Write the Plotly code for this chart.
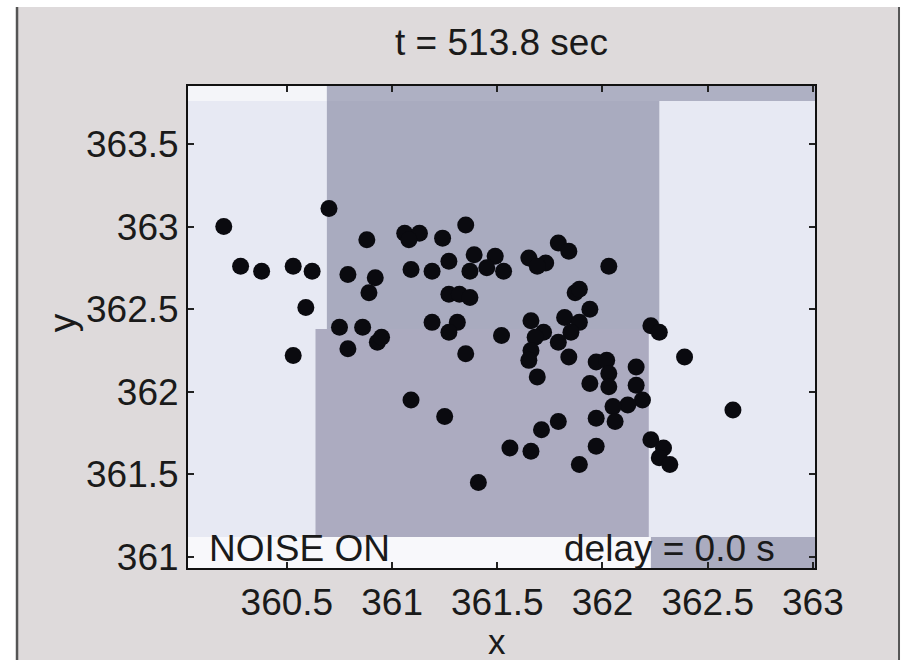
import plotly.graph_objects as go

# ---- data ----
x_vals = [360.20, 360.28, 360.38, 360.53, 360.62, 360.59, 360.53, 360.70, 360.79, 360.88,
          360.92, 360.89, 360.75, 360.79, 360.93, 360.95, 360.86, 361.06, 361.13, 361.08,
          361.35, 361.24, 361.09, 361.19, 361.27, 361.39, 361.49, 361.53, 361.37, 361.45,
          361.27, 361.32, 361.37, 361.65, 361.73, 361.69, 361.79, 361.84, 361.19, 361.31,
          361.27, 361.52, 361.66, 361.82, 361.89, 361.85, 361.79, 361.72, 361.68, 361.87,
          362.03, 361.89, 361.94, 362.23, 362.27, 361.35, 361.09, 361.25, 361.66, 361.65,
          361.69, 361.84, 361.97, 362.02, 362.03, 361.94, 362.03, 362.16, 362.16, 362.19,
          362.12, 362.05, 362.06, 361.97, 361.97, 361.89, 361.79, 361.71, 361.66, 361.56,
          361.41, 362.39, 362.62, 362.23, 362.29, 362.27, 362.32]
y_vals = [363.00, 362.76, 362.73, 362.76, 362.73, 362.51, 362.22, 363.11, 362.71, 362.92,
          362.69, 362.60, 362.39, 362.26, 362.30, 362.33, 362.39, 362.96, 362.96, 362.92,
          363.01, 362.93, 362.74, 362.73, 362.79, 362.83, 362.82, 362.73, 362.73, 362.75,
          362.59, 362.59, 362.57, 362.81, 362.78, 362.76, 362.90, 362.85, 362.42, 362.42,
          362.36, 362.34, 362.43, 362.45, 362.42, 362.36, 362.30, 362.36, 362.33, 362.60,
          362.76, 362.62, 362.50, 362.40, 362.36, 362.23, 361.95, 361.85, 362.25, 362.19,
          362.09, 362.21, 362.18, 362.19, 362.11, 362.05, 362.03, 362.15, 362.04, 361.95,
          361.92, 361.91, 361.82, 361.84, 361.67, 361.56, 361.82, 361.77, 361.64, 361.66,
          361.45, 362.21, 361.89, 361.71, 361.66, 361.60, 361.56]

x_ticks = [360.5, 361, 361.5, 362, 362.5, 363]
x_tick_labels = ["360.5", "361", "361.5", "362", "362.5", "363"]
y_ticks = [361, 361.5, 362, 362.5, 363, 363.5]
y_tick_labels = ["361", "361.5", "362", "362.5", "363", "363.5"]

title_text = "t = 513.8 sec"
x_title = "x"
y_title = "y"
noise_text = "NOISE ON"
delay_text = "delay = 0.0 s"

# background map cells (x0, x1, y0, y1, colour)
X0, X1 = 360.03, 363.01
Y0, Y1 = 360.933, 363.851
cells = [
    (X0, X1, Y0, Y1, "#e7e9f3"),
    (X0, 360.69, 363.76, Y1, "#f4f5f9"),
    (360.69, X1, 363.76, Y1, "#aeb0c3"),
    (360.69, 362.27, 362.38, 363.76, "#a9abbf"),
    (360.636, 362.22, 361.12, 362.38, "#acabc0"),
    (X0, 362.23, Y0, 361.12, "#f8f8fb"),
    (362.23, X1, Y0, 361.12, "#abacc0"),
]

FONT = "Liberation Sans, Arial, Helvetica, sans-serif"
FS = 37
TXT = "#1a1a1a"

fig = go.Figure()

fig.add_trace(go.Scatter(
    x=x_vals, y=y_vals, mode="markers",
    marker=dict(color="#0a0a0f", size=17, line=dict(width=0)),
    hoverinfo="skip", showlegend=False,
))

shapes = []
# figure frame (grey panel)
shapes.append(dict(type="rect", xref="paper", yref="paper",
                   x0=-0.2727, x1=1.134, y0=-0.25, y1=1.1639,
                   fillcolor="#dedadb", line=dict(width=0), layer="below"))
shapes.append(dict(type="line", xref="paper", yref="paper",
                   x0=-0.2727, x1=-0.2727, y0=-0.25, y1=1.1639,
                   line=dict(color="#555555", width=2.5), layer="below"))
shapes.append(dict(type="line", xref="paper", yref="paper",
                   x0=1.134, x1=1.134, y0=-0.25, y1=1.1639,
                   line=dict(color="#555555", width=2), layer="below"))
for (a, b, c, d, col) in cells:
    shapes.append(dict(type="rect", xref="x", yref="y", x0=a, x1=b, y0=c, y1=d,
                       fillcolor=col, line=dict(width=0), layer="below"))

annotations = [
    dict(text=noise_text, x=360.12, y=361.05, xref="x", yref="y",
         xanchor="left", yanchor="middle", showarrow=False,
         font=dict(family=FONT, size=FS, color=TXT)),
    dict(text=delay_text, x=362.83, y=361.05, xref="x", yref="y",
         xanchor="right", yanchor="middle", showarrow=False,
         font=dict(family=FONT, size=FS, color=TXT)),
    dict(text=x_title, x=0.493, y=-0.1515, xref="paper", yref="paper",
         xanchor="center", yanchor="middle", showarrow=False,
         font=dict(family=FONT, size=35, color=TXT)),
    dict(text=y_title, x=-0.201, y=0.51, xref="paper", yref="paper", textangle=-90,
         xanchor="center", yanchor="middle", showarrow=False,
         font=dict(family=FONT, size=FS, color=TXT)),
]

axis_common = dict(
    showgrid=False, zeroline=False, showline=True, linecolor="#111111", linewidth=2,
    mirror="ticks", ticks="inside", ticklen=6, tickwidth=1.5, tickcolor="#222222",
    tickfont=dict(family=FONT, size=FS, color=TXT), automargin=False,
)

fig.update_layout(
    width=904, height=660,
    margin=dict(l=188, r=89, t=86, b=92),
    paper_bgcolor="white", plot_bgcolor="#e7e9f3",
    title=dict(text=title_text, x=0.5, xref="paper", y=1 - 42 / 660, yref="container",
               xanchor="center", yanchor="middle",
               font=dict(family=FONT, size=FS, color=TXT)),
    xaxis=dict(range=[X0, X1], tickvals=x_ticks, ticktext=x_tick_labels,
               ticklabelstandoff=1, **axis_common),
    yaxis=dict(range=[Y0, Y1], tickvals=y_ticks, ticktext=y_tick_labels,
               ticklabelstandoff=0, **axis_common),
    shapes=shapes,
    annotations=annotations,
    font=dict(family=FONT),
)

fig.write_html("out.html", config={"displayModeBar": False},
               post_script="document.body.style.margin='0';document.body.style.padding='0';")
